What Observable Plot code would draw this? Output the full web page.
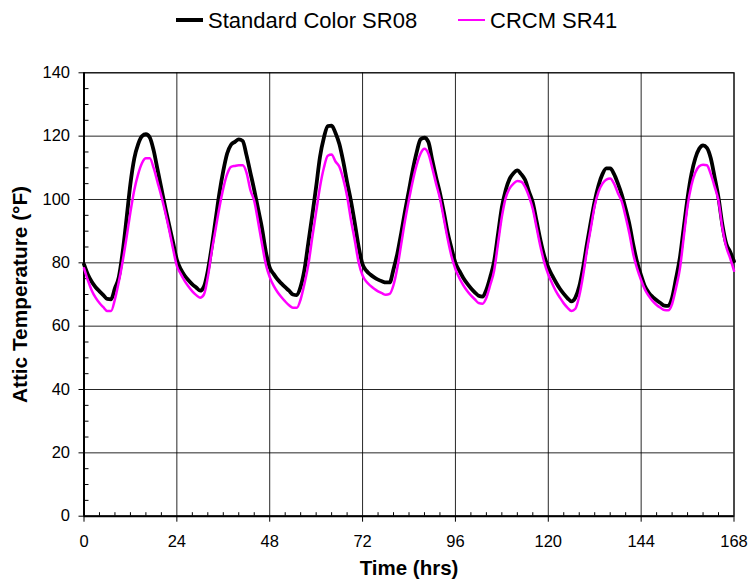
<!DOCTYPE html>
<html><head><meta charset="utf-8">
<script src="https://cdn.jsdelivr.net/npm/d3@7"></script>
<script src="https://cdn.jsdelivr.net/npm/@observablehq/plot@0.6"></script>
<style>
body{margin:0;background:#fff;font-family:"Liberation Sans",Arial,sans-serif;}
#legend{position:relative;width:749px;height:40px;}
#legend .sw{position:absolute;}
#legend .lb{position:absolute;top:1px;height:40px;line-height:40px;font-size:22px;color:#000;white-space:nowrap;}
</style></head><body>
<div id="legend"></div>
<div id="chart"></div>
<script>
const seriesNames = ["Standard Color SR08", "CRCM SR41"];
const seriesColors = ["#000000", "#FF00FF"];
const xTicks = [0, 24, 48, 72, 96, 120, 144, 168];
const xMinor = [4, 8, 12, 16, 20, 28, 32, 36, 40, 44, 52, 56, 60, 64, 68, 76, 80, 84, 88, 92, 100, 104, 108, 112, 116, 124, 128, 132, 136, 140, 148, 152, 156, 160, 164];
const yTicks = [0, 20, 40, 60, 80, 100, 120, 140];
const yMinor = [5, 10, 15, 25, 30, 35, 45, 50, 55, 65, 70, 75, 85, 90, 95, 105, 110, 115, 125, 130, 135];
const hours = [
  0,1,2,3,4,5,6,7,8,9,10,11,12,13,14,15,16,17,18,19,20,21,22,23,
  24,25,26,27,28,29,30,31,32,33,34,35,36,37,38,39,40,41,42,43,44,45,46,47,
  48,49,50,51,52,53,54,55,56,57,58,59,60,61,62,63,64,65,66,67,68,69,70,71,
  72,73,74,75,76,77,78,79,80,81,82,83,84,85,86,87,88,89,90,91,92,93,94,95,
  96,97,98,99,100,101,102,103,104,105,106,107,108,109,110,111,112,113,114,115,116,117,118,119,
  120,121,122,123,124,125,126,127,128,129,130,131,132,133,134,135,136,137,138,139,140,141,142,143,
  144,145,146,147,148,149,150,151,152,153,154,155,156,157,158,159,160,161,162,163,164,165,166,167,
  168];
// Standard Color SR08 (black)
const sr08 = [
  79.5,76.3,74,72.3,71,69.8,68.6,68.5,72,75.5,83.5,94,105,113,117.5,120,120.6,119.6,115.5,109.5,103.5,97.5,92,86.5,
  81,78,76,74.5,73.2,72.2,71.2,72.5,77.5,85,93.5,102,109,114.5,117.3,118.2,119,118.5,114,108.5,103,97,91,83.5,
  78.5,76.5,74.8,73.5,72.3,71.2,70,69.8,72.5,78,86.5,95,104,113.5,119.5,123.2,123.3,121,117.5,112,105.5,99.5,92.5,85,
  79.5,77.5,76.3,75.4,74.7,74.2,73.8,73.8,78,83,89.5,96.5,103,109.5,115,119,119.5,118.2,112.5,107,102,96,89.5,84.5,
  80,77.5,75.3,73.5,72,70.7,69.6,69.3,71.5,75.5,80.5,89,97.5,103,106.5,108.3,109.2,108,106.2,102.5,99,93,87,82,
  78.5,76,73.8,71.8,70.2,68.8,67.8,69,72.5,78.5,86,93,99.5,104.5,108,109.8,109.8,108,105,101.5,97,92,85.5,80,
  76,72.5,70.5,69.2,68.2,67.3,66.5,66.4,69,75,81.5,91,100.5,108,113,116,117.1,116.3,113,107,100.5,92,86,83.5,
  80.5];
// CRCM SR41 (magenta)
const sr41 = [
  78.3,74.5,71.3,69,67.3,66,64.8,64.8,68.5,74,80.5,88,96,103,108,111.5,113,113,110,105.5,101,96,90.5,84.5,
  79,76.5,74.3,72.5,71,69.8,69,70,75.5,83.5,90.5,97.5,103.5,108,110.3,110.6,110.8,110.8,108.5,103,99.5,93,86,79.5,
  75.5,72.8,70.8,69.2,67.8,66.6,65.8,65.8,68.5,73.5,79.5,88,96,104,110,113.8,114.2,112,110.3,106.5,101,93.5,87,80,
  76,74,72.8,71.8,71,70.4,69.9,70.2,73,78.5,86,93.5,100,106,111,114.5,116,114.5,110,105,100.3,94,87.5,82,
  78,75.2,73,71.2,69.7,68.5,67.3,67.1,69,73,77.5,86,94.5,100.5,103.5,105,105.8,105.6,104,101,97,91,85,80,
  76.3,73.5,71,69,67.2,65.8,64.8,65.5,69.5,76,84,91,98,102.5,105,106.3,106.6,105,102,99.3,94.5,89,82.5,78,
  74.5,71.5,69.5,67.9,66.7,65.8,65.1,65,67,72,78,88,98,104.5,108.5,110.5,111,110.8,108,104,99.5,91,85,81.5,
  77.5];

const data = hours.map((h, i) => ({h, sr08: sr08[i], sr41: sr41[i]}));

// legend
const legend = document.getElementById("legend");
legend.innerHTML = `
  <div class="sw" style="left:176px;top:18.3px;width:27px;height:3.5px;background:${seriesColors[0]}"></div>
  <div class="lb" style="left:208px">${seriesNames[0]}</div>
  <div class="sw" style="left:458px;top:19px;width:27px;height:2.2px;background:${seriesColors[1]}"></div>
  <div class="lb" style="left:490px">${seriesNames[1]}</div>`;

const chart = Plot.plot({
  width: 749,
  height: 543,
  marginTop: 32.3,
  marginBottom: 67.3,
  marginLeft: 83.5,
  marginRight: 15.5,
  style: {fontFamily: '"Liberation Sans", Arial, sans-serif', fontSize: "16.5px", color: "#000", background: "#fff"},
  x: {domain: [0, 168]},
  y: {domain: [0, 140]},
  marks: [
    Plot.ruleX(xTicks, {stroke: "#000", strokeWidth: 1, strokeOpacity: 0.85}),
    Plot.ruleY(yTicks, {stroke: "#000", strokeWidth: 1, strokeOpacity: 0.85}),
    Plot.frame({stroke: "#000", strokeWidth: 1}),
    Plot.axisX({ticks: xTicks, tickSize: 6, tickPadding: 13, label: null}),
    Plot.axisX({ticks: xMinor, tickSize: 3.5, dy: -3.5, tickFormat: () => "", label: null}),
    Plot.axisY({ticks: yTicks, tickSize: 5, tickPadding: 9, label: null}),
    Plot.axisY({ticks: yMinor, tickSize: 5, dx: 5, tickFormat: () => "", label: null}),
    Plot.ruleX([0], {stroke: "#000", strokeWidth: 2}),
    Plot.ruleY([0], {stroke: "#000", strokeWidth: 2}),
    Plot.line(data, {x: "h", y: "sr08", stroke: seriesColors[0], strokeWidth: 3.8, curve: "monotone-x"}),
    Plot.line(data, {x: "h", y: "sr41", stroke: seriesColors[1], strokeWidth: 2.5, curve: "monotone-x"}),
    Plot.text(["Time (hrs)"], {frameAnchor: "bottom", dy: 52.3, fontWeight: "bold", fontSize: 20.5, lineAnchor: "middle", textAnchor: "middle", fill: "#000"}),
    Plot.text(["Attic Temperature (°F)"], {frameAnchor: "left", dx: -63.5, rotate: -90, fontWeight: "bold", fontSize: 20.8, lineAnchor: "middle", textAnchor: "middle", fill: "#000"})
  ]
});
document.getElementById("chart").appendChild(chart);
</script>
</body></html>
